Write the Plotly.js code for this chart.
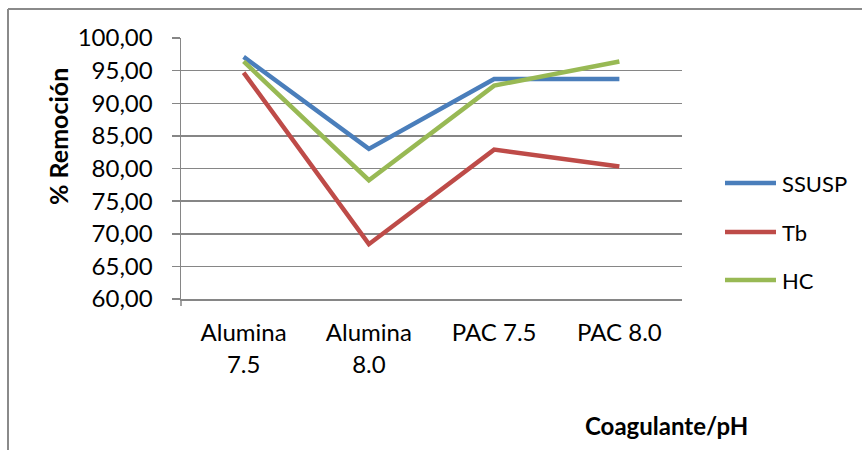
<!DOCTYPE html>
<html>
<head>
<meta charset="utf-8">
<script src="https://cdn.plot.ly/plotly-3.0.1.min.js"></script>
<style>
html,body{margin:0;padding:0;background:#fff;}
#chart{width:862px;height:450px;}
</style>
</head>
<body>
<div id="chart"></div>
<script>
const categories = ["Alumina<br>7.5", "Alumina<br>8.0", "PAC 7.5", "PAC 8.0"];
const seriesNames = ["SSUSP", "Tb", "HC"];
const ssusp = [97.1, 83.0, 93.7, 93.7];
const tb = [94.7, 68.4, 82.9, 80.3];
const hc = [96.4, 78.2, 92.7, 96.4];
const yTicks = [60, 65, 70, 75, 80, 85, 90, 95, 100];
const colors = ["#4A7EBB", "#BE4B48", "#98B954"];
const seriesValues = [ssusp, tb, hc];

const W = 862, H = 450;
const L = 181, R = 682, T = 38, B = 299;
const px = x => (x - L) / (R - L);
const py = y => (B - y) / (B - T);

const traces = seriesValues.map((v, i) => ({
  x: categories,
  y: v,
  type: 'scatter',
  mode: 'lines',
  name: seriesNames[i],
  line: {color: colors[i], width: 4.5},
  showlegend: false
}));

const shapes = [
  {type:'line', xref:'paper', yref:'paper', x0:px(8), x1:px(8), y0:py(9), y1:py(452), line:{color:'#8a8a8a', width:2}},
  {type:'line', xref:'paper', yref:'paper', x0:px(8), x1:px(864), y0:py(9), y1:py(9), line:{color:'#8a8a8a', width:2}},
  {type:'line', xref:'paper', yref:'paper', x0:0, x1:0, y0:0, y1:py(306), line:{color:'#868686', width:1.5}}
];
const annotations = [
  {xref:'paper', yref:'paper', x:px(58), y:py(137), text:'<b>% Remoción</b>', textangle:-90, showarrow:false,
   font:{family:'Lato, sans-serif', size:25, color:'#000'}, xanchor:'center', yanchor:'middle'},
  {xref:'paper', yref:'paper', x:px(666), y:py(425), text:'<b>Coagulante/pH</b>', showarrow:false,
   font:{family:'Lato, sans-serif', size:24, color:'#000'}, xanchor:'center', yanchor:'middle'}
];
const legY = [183, 232, 280];
seriesNames.forEach((n, i) => {
  shapes.push({type:'line', xref:'paper', yref:'paper', x0:px(725), x1:px(776), y0:py(legY[i]), y1:py(legY[i]),
    line:{color:colors[i], width:4.5}});
  annotations.push({xref:'paper', yref:'paper', x:px(780), y:py(legY[i]), text:n, showarrow:false,
    xanchor:'left', yanchor:'middle', font:{family:'Lato, sans-serif', size:22, color:'#000'}});
});

const layout = {
  width: W, height: H,
  margin: {l: L, r: W - R, t: T, b: H - B, pad: 0},
  paper_bgcolor: '#fff', plot_bgcolor: '#fff',
  separators: ',.',
  showlegend: false,
  font: {family: 'Lato, sans-serif', size: 24, color: '#000'},
  xaxis: {
    type: 'category',
    range: [-0.5, 3.5],
    showgrid: false,
    zeroline: false,
    showline: true, linecolor: '#868686', linewidth: 1.5,
    ticks: '',
    ticklabelstandoff: 12,
    tickfont: {family: 'Lato, sans-serif', size: 24, color: '#000'},
    fixedrange: true
  },
  yaxis: {
    range: [60, 100],
    tickvals: yTicks,
    tickformat: '.2f',
    showgrid: true, gridcolor: '#868686', gridwidth: 1.5,
    zeroline: false,
    showline: true, linecolor: '#868686', linewidth: 1.5,
    ticks: 'outside', ticklen: 8, tickcolor: '#868686', tickwidth: 1.5,
    ticklabelstandoff: 14,
    tickfont: {family: 'Lato, sans-serif', size: 24, color: '#000'},
    fixedrange: true
  },
  shapes: shapes,
  annotations: annotations
};

Plotly.newPlot('chart', traces, layout, {displayModeBar: false, staticPlot: true});
</script>
</body>
</html>
